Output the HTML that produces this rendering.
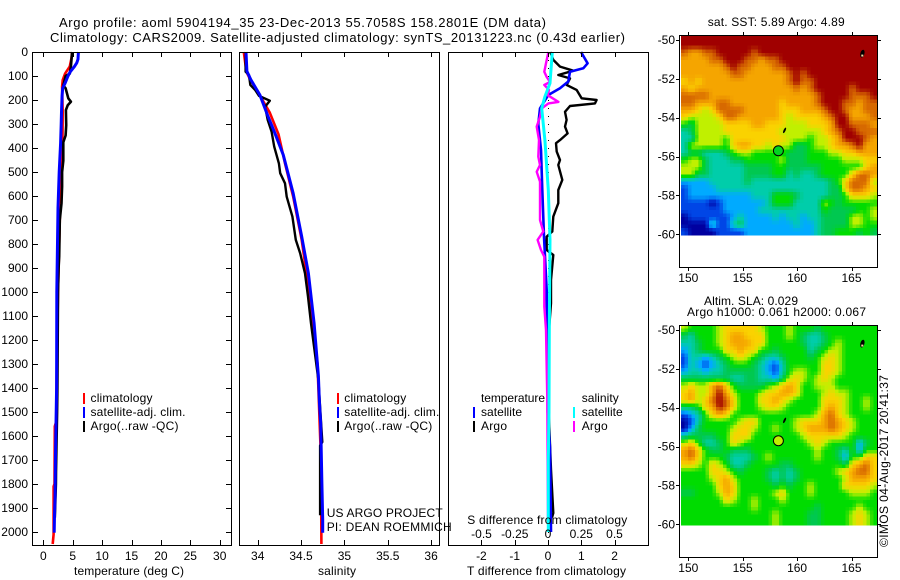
<!DOCTYPE html>
<html lang="en">
<head>
<meta charset="utf-8">
<title>Argo profile chart</title>
<style>
html,body{margin:0;padding:0;background:#fff;}
svg{display:block;}
text{font-family:"Liberation Sans",sans-serif;font-size:12px;fill:#000;}
.t13{font-size:13px;}
</style>
</head>
<body>
<svg id="chart" xmlns="http://www.w3.org/2000/svg" width="900" height="580" viewBox="0 0 900 580">
<rect x="0" y="0" width="900" height="580" fill="#fff"/>
<text class="t13" x="59" y="27" textLength="487" lengthAdjust="spacing">Argo profile: aoml 5904194_35 23-Dec-2013 55.7058S 158.2801E (DM data)</text>
<text class="t13" x="50" y="42" textLength="575" lengthAdjust="spacing">Climatology: CARS2009. Satellite-adjusted climatology: synTS_20131223.nc (0.43d earlier)</text>
<g id="panels"></g>

<g>
<rect x="83" y="393" width="2" height="11" fill="#f00"/>
<rect x="83" y="407" width="2" height="11" fill="#00f"/>
<rect x="83" y="421" width="2" height="11" fill="#000"/>
<text x="90.5" y="402" textLength="62" lengthAdjust="spacing">climatology</text>
<text x="90.5" y="416" textLength="95" lengthAdjust="spacing">satellite-adj. clim.</text>
<text x="90.5" y="430" textLength="88" lengthAdjust="spacing">Argo(..raw -QC)</text>
</g>
<g>
<rect x="337" y="393" width="2" height="11" fill="#f00"/>
<rect x="337" y="407" width="2" height="11" fill="#00f"/>
<rect x="337" y="421" width="2" height="11" fill="#000"/>
<text x="344.3" y="402" textLength="62" lengthAdjust="spacing">climatology</text>
<text x="344.3" y="416" textLength="95" lengthAdjust="spacing">satellite-adj. clim.</text>
<text x="344.3" y="430" textLength="88" lengthAdjust="spacing">Argo(..raw -QC)</text>
</g>
<g>
<text x="481" y="402" textLength="64" lengthAdjust="spacing">temperature</text>
<rect x="473" y="407" width="2" height="11" fill="#00f"/>
<text x="481" y="416" textLength="41" lengthAdjust="spacing">satellite</text>
<rect x="473" y="421" width="2" height="11" fill="#000"/>
<text x="481" y="430" textLength="26" lengthAdjust="spacing">Argo</text>
<text x="581.7" y="402" textLength="37" lengthAdjust="spacing">salinity</text>
<rect x="573" y="407" width="2" height="11" fill="#0ff"/>
<text x="581.7" y="416" textLength="41" lengthAdjust="spacing">satellite</text>
<rect x="573" y="421" width="2" height="11" fill="#f0f"/>
<text x="581.7" y="430" textLength="26" lengthAdjust="spacing">Argo</text>
</g>
<text x="326.7" y="517" textLength="116" lengthAdjust="spacing">US ARGO PROJECT</text>
<text x="326.7" y="531" textLength="125" lengthAdjust="spacing">PI: DEAN ROEMMICH</text>
<text x="467.3" y="524" textLength="160" lengthAdjust="spacing">S difference from climatology</text>
<text x="74" y="575" textLength="110" lengthAdjust="spacing">temperature (deg C)</text>
<text x="318" y="575" textLength="38" lengthAdjust="spacing">salinity</text>
<text x="467" y="575" textLength="159" lengthAdjust="spacing">T difference from climatology</text>
<text x="707.7" y="26" textLength="137" lengthAdjust="spacing">sat. SST: 5.89 Argo: 4.89</text>
<text x="704" y="305" textLength="94" lengthAdjust="spacing">Altim. SLA: 0.029</text>
<text x="687" y="316" textLength="179" lengthAdjust="spacing">Argo h1000: 0.061 h2000: 0.067</text>
<text transform="translate(888 547) rotate(-90)" x="0" y="0" textLength="172" lengthAdjust="spacing">©IMOS 04-Aug-2017 20:41:37</text>
</svg>

<script>
// ---------- axis tick values ----------
var depthTicks = [0,100,200,300,400,500,600,700,800,900,1000,1100,1200,1300,1400,1500,1600,1700,1800,1900,2000];
var tempTicks = [0,5,10,15,20,25,30];
var salTicks = ["34","34.5","35","35.5","36"];
var tDiffTicks = ["-2","-1","0","1","2"];
var sDiffTicks = ["-0.5","-0.25","0","0.25","0.5"];
var lonTicks = [150,155,160,165];
var latTicks = [-50,-52,-54,-56,-58,-60];

// ---------- temperature profiles (depth m, deg C) ----------
var tempClimDepth = [0,25,60,90,117,144,250,400,520,600,700,1000,1300,1540,1560,1800,1810,2000,2010,2050];
var tempClimValue = [4.9,4.8,4.5,3.7,3.3,3.2,3.3,3.25,3.0,2.95,2.8,2.5,2.3,2.2,1.95,1.9,1.75,1.75,1.75,1.6];
var tempArgoDepth = [0,61,90,100,140,151,193,207,222,242,305,348,376,453,500,560,630,700,850,900,1000,1400,1500,1750,1800,1940];
var tempArgoValue = [4.9,4.7,4.5,3.8,3.4,3.8,4.25,4.7,4.15,3.85,3.9,3.8,3.4,3.4,3.2,3.2,3.1,2.8,2.7,2.6,2.5,2.4,2.35,2.16,2.15,1.95];
var tempSatDepth = [0,30,45,60,82,100,130,150,180,250,300,380,500,650,1000,1400,1700,1850,1930,2003];
var tempSatValue = [5.97,5.9,5.7,5.3,4.6,4.2,3.7,3.3,3.2,3.1,3.05,2.95,2.7,2.5,2.3,2.27,2.05,2.0,1.9,1.85];

// ---------- salinity profiles (depth m, psu) ----------
var salClimDepth = [0,82,112,158,206,253,343,464,603,783,992,1130,1300,1700,2050];
var salClimValue = [33.84,33.87,33.91,33.99,34.065,34.14,34.24,34.315,34.41,34.507,34.59,34.64,34.69,34.73,34.735];
var salArgoDepth = [0,82,96,137,158,183,203,228,283,332,394,464,505,547,603,686,783,839,922,1019,1130,1367,1625,1640,1800,1930];
var salArgoValue = [33.86,33.86,33.9,33.915,33.97,34.015,34.14,34.085,34.115,34.16,34.19,34.245,34.26,34.315,34.335,34.4,34.44,34.49,34.545,34.58,34.615,34.7,34.745,34.72,34.72,34.72];
var salSatDepth = [0,80,115,179,269,339,429,589,769,922,1130,1350,1450,1550,1800,1950,2003];
var salSatValue = [33.865,33.875,33.92,34.025,34.12,34.2,34.295,34.41,34.507,34.585,34.65,34.7,34.71,34.727,34.74,34.75,34.75];

// ---------- difference profiles ----------
var tDiffArgoDepth = [0,33,61,78,96,110,137,158,193,200,214,225,249,283,311,339,367,380,415,450,471,533,575,630,686,748,769,825,846,950,1047,1158,1500,1740,1921,1940];
var tDiffArgoValue = [0.07,0.16,0.36,0.76,0.31,0.66,0.56,0.86,1.01,1.46,1.41,0.66,0.51,0.56,0.51,0.59,0.36,0.24,0.26,0.36,0.31,0.43,0.31,0.31,0.16,0.13,-0.04,-0.04,0.16,0.09,0.09,0.03,0.02,0.09,0.16,0.12];
var tDiffSatDepth = [0,47,68,82,123,151,179,235,300,408,575,769,992,1367,1500,1650,2000];
var tDiffSatValue = [0.99,1.19,1.06,0.66,0.61,0.36,0.01,-0.24,-0.29,-0.21,-0.17,-0.12,-0.04,-0.01,-0.01,0.06,0.09];
var sDiffArgoDepth = [0,47,82,104,125,137,158,180,208,214,235,270,311,367,436,471,499,540,700,748,783,825,853,1061,1158,1450,1940];
var sDiffArgoValue = [0.003,-0.015,-0.028,-0.01,0.015,-0.028,0.0075,-0.002,0.078,0.003,-0.047,-0.06,-0.085,-0.068,-0.073,-0.06,-0.085,-0.06,-0.06,-0.035,-0.078,-0.053,-0.028,-0.028,-0.015,-0.005,0.0];
var sDiffSatDepth = [0,130,186,235,367,575,783,1158,1500,1700,2000];
var sDiffSatValue = [0.032,0.015,-0.023,-0.047,-0.023,0.002,0.015,0.01,0.0075,0.002,0.002];

// ---------- map colour levels (0 navy ... 10 dark red) ----------
var levelColors = [[0,0,160],[0,70,230],[0,170,255],[0,205,170],[0,200,80],[0,220,0],[192,240,0],[250,210,0],[245,165,0],[215,105,0],[160,0,0]];
var sstLevels = [
[10,10,10,10,10,10,10,10,10,10,10,10,10,10,10,10,10,10,10,10,10,10,10,10,10,10,10,10],
[10,10,10,10,10,10,10,10,10,10,10,10,10,10,10,10,10,10,10,10,10,10,10,10,10,10,10,10],
[9,8,8,9,9,10,10,10,10,10,9,10,10,10,10,10,10,10,10,10,10,10,10,10,10,10,10,10],
[8,8,8,8,9,9,10,10,10,9,9,8,9,9,10,10,10,10,10,10,10,10,10,10,10,10,10,10],
[8,8,8,8,8,8,9,10,9,9,8,8,8,9,9,10,10,10,10,10,10,10,10,10,10,10,10,10],
[8,8,8,8,8,8,8,9,9,8,8,8,8,8,8,9,10,9,10,10,10,10,10,10,10,10,10,10],
[7,8,7,8,8,8,8,8,8,8,8,8,8,8,8,9,10,9,9,10,10,10,10,10,10,10,10,10],
[8,7,8,8,8,8,8,8,8,8,8,8,8,8,8,8,9,8,9,10,10,10,10,10,9,10,10,10],
[9,9,9,9,8,8,8,8,8,8,8,8,8,8,8,8,8,8,8,9,10,10,10,10,9,9,9,10],
[9,9,8,8,8,9,9,8,8,8,8,8,8,8,7,8,8,8,8,9,10,10,10,9,9,8,9,9],
[8,8,7,6,7,9,9,9,9,8,8,8,8,8,7,7,7,8,8,8,9,10,10,9,8,8,9,9],
[7,6,6,6,6,7,9,9,8,8,8,8,8,8,7,6,7,7,7,7,8,9,10,10,8,8,8,9],
[5,4,6,6,6,6,7,7,7,7,8,8,7,7,7,6,6,6,7,7,7,8,10,10,9,9,9,8],
[3,4,6,6,6,6,7,7,7,7,7,7,7,7,6,6,6,6,6,6,7,8,9,10,10,9,9,9],
[3,3,6,6,6,6,5,7,7,7,7,7,7,7,7,6,6,6,5,6,6,7,8,10,10,10,9,8],
[3,6,6,6,6,6,5,7,8,8,7,7,6,7,6,6,4,4,5,6,6,7,8,8,9,10,8,8],
[3,4,4,3,3,3,4,5,6,6,5,5,5,5,5,4,4,4,5,5,5,6,6,7,7,8,8,8],
[5,6,6,4,3,3,3,4,4,5,5,5,5,5,6,4,4,4,5,5,5,5,5,6,6,6,7,7],
[6,6,6,4,3,3,3,3,3,4,4,4,4,5,5,4,4,4,4,4,5,5,5,5,5,5,7,8],
[6,6,4,4,3,3,3,3,3,4,4,4,4,5,5,3,4,3,3,4,5,5,5,5,7,9,9,8],
[2,2,2,2,3,3,3,3,3,4,3,3,3,3,3,3,3,3,3,3,3,4,5,7,9,9,9,6],
[1,2,2,2,2,3,3,3,3,3,3,3,3,3,3,3,3,3,3,3,3,4,4,7,9,9,8,7],
[1,2,2,2,2,2,2,2,2,2,3,3,3,5,5,5,4,3,3,3,3,4,4,5,7,7,7,6],
[1,1,1,1,0,1,2,2,2,2,2,2,3,5,5,5,3,3,3,3,6,5,4,5,5,5,5,5],
[1,1,1,1,1,1,2,2,2,2,2,3,3,3,3,3,3,3,3,3,5,4,4,4,4,5,5,6],
[0,1,1,1,1,1,1,2,3,2,2,2,2,3,2,3,3,2,3,3,4,4,4,4,6,6,5,6],
[0,0,0,0,3,1,1,3,4,2,2,2,2,2,2,2,3,2,2,3,4,4,4,4,6,6,5,5],
[1,0,0,0,0,1,1,1,1,2,2,2,2,2,2,2,2,2,2,3,4,4,5,5,5,4,5,4]
];
var slaLevels = [
[6,5,5,5,5,6,7,7,7,7,7,6,5,5,5,6,5,5,5,4,5,5,5,5,5,5,5,5],
[4,3,5,5,5,6,7,8,8,7,7,7,5,5,5,6,5,4,3,3,4,5,5,5,5,5,5,5],
[3,3,4,5,5,6,7,8,8,8,7,7,5,5,5,5,5,4,3,3,4,5,6,5,5,5,5,5],
[2,3,4,5,5,5,7,7,8,7,7,5,5,4,5,5,5,5,3,4,5,6,6,5,5,5,5,5],
[1,3,3,2,3,4,5,6,7,6,5,4,3,3,4,5,5,5,4,5,6,7,6,5,5,5,5,5],
[1,3,2,1,2,3,4,5,5,5,4,3,2,1,3,5,5,5,5,5,7,7,6,5,5,5,5,5],
[2,3,3,2,3,3,4,4,4,4,4,3,2,1,3,5,6,6,5,5,7,7,6,5,5,5,5,5],
[4,4,4,4,4,4,4,3,3,4,4,3,3,2,4,6,7,6,5,6,7,6,5,5,5,5,5,5],
[6,7,6,6,8,9,7,5,4,4,4,4,5,6,7,8,7,5,5,6,6,6,5,5,5,5,5,5],
[7,8,6,6,8,10,8,6,5,5,5,6,7,7,8,8,7,5,5,5,6,7,6,6,5,5,5,5],
[7,8,6,7,9,10,9,7,5,5,5,7,7,8,7,6,5,5,5,5,7,7,7,6,5,5,6,5],
[4,4,5,7,8,10,9,7,5,5,5,6,7,7,6,5,5,5,5,5,7,8,7,6,5,5,6,5],
[1,2,3,5,7,8,7,5,5,5,5,5,5,5,5,5,5,5,5,6,8,9,7,6,5,5,5,5],
[0,1,3,5,5,5,5,5,6,7,7,5,5,5,5,5,6,7,7,7,8,9,8,7,6,5,5,5],
[0,2,4,5,5,5,5,6,7,7,6,5,5,6,5,5,6,7,8,8,8,9,8,7,6,5,5,5],
[3,4,4,4,4,5,5,7,7,7,5,5,5,5,5,5,5,6,7,7,7,7,7,6,5,5,5,5],
[6,7,5,3,3,4,5,7,6,5,5,5,5,5,5,5,5,5,6,7,6,5,5,5,5,2,4,5],
[8,9,7,5,4,4,5,4,4,4,5,5,5,5,5,5,5,5,5,6,5,5,4,3,5,2,5,5],
[8,9,7,5,5,5,4,3,3,3,4,5,6,5,5,5,5,5,5,6,5,5,4,2,5,5,7,7],
[7,7,6,5,7,6,5,3,3,4,5,5,5,5,4,4,5,5,5,5,5,5,5,4,7,8,9,7],
[5,5,5,5,7,7,6,5,4,5,5,5,4,3,4,3,4,5,5,5,5,5,6,7,8,9,9,7],
[5,5,5,5,6,7,8,6,5,5,5,5,4,3,4,3,4,5,5,5,5,5,5,6,8,8,8,7],
[5,5,5,5,5,7,8,7,5,5,5,5,5,4,5,4,5,5,6,5,5,5,5,7,7,7,7,6],
[4,4,5,5,5,6,8,7,5,5,5,5,5,6,7,5,5,5,6,5,5,5,5,5,6,6,6,5],
[5,5,5,5,5,5,7,6,5,5,6,5,5,5,6,5,5,5,5,5,5,5,5,5,5,5,5,5],
[5,5,5,5,5,5,5,5,5,5,6,5,5,5,5,5,5,5,5,4,5,5,5,5,5,6,5,5],
[5,5,5,5,5,5,5,5,5,5,5,5,5,6,5,5,5,5,4,4,5,5,5,5,6,7,6,5],
[5,5,5,5,5,5,5,5,5,5,5,5,5,6,5,5,5,5,4,4,5,5,5,5,6,7,6,5]
];
var profileLonLat = [158.28,-55.7];
var profileSstLevel = [4.6];
var profileSlaLevel = [6];

// ---------- drawing ----------
var SVGNS = "http://www.w3.org/2000/svg";
var root = document.getElementById("panels");
function make(tag, parent, attrs) {
  var el = document.createElementNS(SVGNS, tag);
  for (var k in attrs) { el.setAttribute(k, attrs[k]); }
  parent.appendChild(el);
  return el;
}
var yDepth = function (d) { return 52 + d * 0.24; };
var xTemp = function (t) { return 43.3 + t * 5.88; };
var xSal = function (s) { return 257.7 + (s - 34) * 86.7; };
var xTDiff = function (t) { return 548 + t * 33.3; };
var xSDiff = function (s) { return 548 + s * 133; };

function levelColor(v) {
  var lo = Math.max(0, Math.min(levelColors.length - 1, Math.floor(v)));
  var hi = Math.min(levelColors.length - 1, lo + 1);
  var f = v - lo;
  var a = levelColors[lo], b = levelColors[hi];
  return "rgb(" + Math.round(a[0] + (b[0] - a[0]) * f) + "," + Math.round(a[1] + (b[1] - a[1]) * f) + "," + Math.round(a[2] + (b[2] - a[2]) * f) + ")";
}
function sampleGrid(levels, u, v) {
  var rows = levels.length, cols = levels[0].length;
  u = Math.max(0, Math.min(cols - 1, u));
  v = Math.max(0, Math.min(rows - 1, v));
  var c0 = Math.floor(u), r0 = Math.floor(v);
  var c1 = Math.min(cols - 1, c0 + 1), r1 = Math.min(rows - 1, r0 + 1);
  var fu = u - c0, fv = v - r0;
  return (levels[r0][c0] * (1 - fu) + levels[r0][c1] * fu) * (1 - fv) + (levels[r1][c0] * (1 - fu) + levels[r1][c1] * fu) * fv;
}

function drawBox(parent, name, x0, y0, x1, y1) {
  var el = make("rect", parent, {x: x0 + 0.5, y: y0 + 0.5, width: x1 - x0, height: y1 - y0, fill: "none", stroke: "#000", "stroke-width": 1, "shape-rendering": "crispEdges"});
  
  
}
function drawTick(parent, x0, y0, x1, y1) {
  var el = make("line", parent, {x1: x0, y1: y0, x2: x1, y2: y1, stroke: "#000", "stroke-width": 1, "shape-rendering": "crispEdges"});
  
  
}
function drawLabel(parent, str, x, y, anchor) {
  var el = make("text", parent, {x: x, y: y, "text-anchor": anchor});
  el.textContent = str;
  
  
}
function drawProfile(parent, name, depths, values, xFn, color, width) {
  var pts = depths.map(function (d, i) { return xFn(values[i]).toFixed(1) + "," + yDepth(d).toFixed(1); }).join(" ");
  var el = make("polyline", parent, {points: pts, fill: "none", stroke: color, "stroke-width": width, "stroke-linejoin": "round"});
  
  
}

// Temperature panel
var p1 = make("g", root, {});


drawProfile(p1, 'temperature-climatology-line', tempClimDepth, tempClimValue, xTemp, "#f00", 2.6);
drawProfile(p1, 'temperature-argo-line', tempArgoDepth, tempArgoValue, xTemp, "#000", 2.6);
drawProfile(p1, 'temperature-satellite-line', tempSatDepth, tempSatValue, xTemp, "#00f", 3);
drawBox(p1, 'temperature-plot-frame', 32, 52, 231, 545);
depthTicks.forEach(function (d) {
  drawTick(p1, 32, Math.round(yDepth(d)) + 0.5, 38, Math.round(yDepth(d)) + 0.5);
  drawTick(p1, 226, Math.round(yDepth(d)) + 0.5, 232, Math.round(yDepth(d)) + 0.5);
  drawLabel(p1, String(d), 28, yDepth(d) + 4, "end");
});
tempTicks.forEach(function (t) {
  drawTick(p1, Math.round(xTemp(t)) + 0.5, 52, Math.round(xTemp(t)) + 0.5, 57);
  drawTick(p1, Math.round(xTemp(t)) + 0.5, 540, Math.round(xTemp(t)) + 0.5, 545);
  drawLabel(p1, String(t), xTemp(t), 560, "middle");
});

// Salinity panel
var p2 = make("g", root, {});


drawProfile(p2, 'salinity-climatology-line', salClimDepth, salClimValue, xSal, "#f00", 2.6);
drawProfile(p2, 'salinity-argo-line', salArgoDepth, salArgoValue, xSal, "#000", 2.4);
drawProfile(p2, 'salinity-satellite-line', salSatDepth, salSatValue, xSal, "#00f", 3);
drawBox(p2, 'salinity-plot-frame', 239, 52, 439, 545);
salTicks.forEach(function (s) {
  var x = Math.round(xSal(parseFloat(s))) + 0.5;
  drawTick(p2, x, 52, x, 57);
  drawTick(p2, x, 540, x, 545);
  drawLabel(p2, s, xSal(parseFloat(s)), 560, "middle");
});

// Difference panel
var p3 = make("g", root, {});


var zeroLine = make("line", p3, {x1: xTDiff(0) + 0.5, y1: 52, x2: xTDiff(0) + 0.5, y2: 545, stroke: "#000", "stroke-width": 1, "stroke-dasharray": "1 7"});


drawProfile(p3, 't-difference-argo-line', tDiffArgoDepth, tDiffArgoValue, xTDiff, "#000", 2.4);
drawProfile(p3, 't-difference-satellite-line', tDiffSatDepth, tDiffSatValue, xTDiff, "#00f", 2.6);
drawProfile(p3, 's-difference-argo-line', sDiffArgoDepth, sDiffArgoValue, xSDiff, "#f0f", 2.4);
drawProfile(p3, 's-difference-satellite-line', sDiffSatDepth, sDiffSatValue, xSDiff, "#0ff", 3);
drawBox(p3, 'difference-plot-frame', 448, 52, 648, 545);
tDiffTicks.forEach(function (t) {
  var x = Math.round(xTDiff(parseFloat(t))) + 0.5;
  drawTick(p3, x, 540, x, 545);
  drawLabel(p3, t, xTDiff(parseFloat(t)), 560, "middle");
});
sDiffTicks.forEach(function (s) {
  var x = Math.round(xSDiff(parseFloat(s))) + 0.5;
  drawTick(p3, x, 52, x, 57);
  drawLabel(p3, s, xSDiff(parseFloat(s)), 538, "middle");
});

// Maps: every grid cell is painted as 2x2 blended sub-cells
function drawMap(name, levels, top, bottom, tickTop, circleLevel) {
  var g = make("g", root, {});
  
  
  var xLon = function (lon) { return 688.3 + (lon - 150) * 10.88; };
  var yLat = function (lat) { return tickTop + (-lat - 50) * 19.43; };
  var sub = 2;
  var cols = levels[0].length * sub;
  var rows = levels.length * sub;
  var cellW = 196 / cols;
  var cellH = 200 / rows;
  for (var r = 0; r < rows; r++) {
    for (var c = 0; c < cols; c++) {
      var v = sampleGrid(levels, (c + 0.5) / sub - 0.5, (r + 0.5) / sub - 0.5);
      var cell = make("rect", g, {x: 681 + c * cellW, y: top + r * cellH, width: cellW + 0.5, height: cellH + 0.5, fill: levelColor(v), "shape-rendering": "crispEdges"});
      
      
    }
  }
  var isle1 = make("ellipse", g, {cx: xLon(158.85), cy: yLat(-54.65), rx: 1, ry: 3, fill: "#000", transform: "rotate(25 " + xLon(158.85) + " " + yLat(-54.65) + ")"});
  
  
  var isle2 = make("ellipse", g, {cx: xLon(166), cy: yLat(-50.7), rx: 2, ry: 4, fill: "#000", transform: "rotate(15 " + xLon(166) + " " + yLat(-50.7) + ")"});
  
  
  var isle3 = make("rect", g, {x: xLon(165.9), y: yLat(-50.75), width: 2, height: 2, fill: "#f5d8a0"});
  
  
  var marker = make("circle", g, {cx: xLon(profileLonLat[0]), cy: yLat(profileLonLat[1]), r: 5, fill: levelColor(circleLevel), stroke: "#000", "stroke-width": 1});
  
  
  drawBox(g, 'map-frame', 679, top, 877, bottom);
  lonTicks.forEach(function (lon) {
    var x = Math.round(xLon(lon)) + 0.5;
    drawTick(g, x, top - 3, x, top);
    drawTick(g, x, bottom + 1, x, bottom + 4);
    drawLabel(g, String(lon), xLon(lon), bottom + 15, "middle");
  });
  latTicks.forEach(function (lat) {
    var y = Math.round(yLat(lat)) + 0.5;
    drawTick(g, 676, y, 679, y);
    drawTick(g, 878, y, 881, y);
    drawLabel(g, String(lat), 675, yLat(lat) + 4, "end");
  });
}
drawMap('sst-map', sstLevels, 35, 267, 40, profileSstLevel[0]);
drawMap('sla-map', slaLevels, 325, 557, 330, profileSlaLevel[0]);
</script>
</body>
</html>
